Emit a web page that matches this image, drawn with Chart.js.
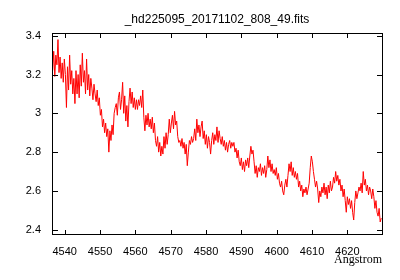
<!DOCTYPE html>
<html>
<head>
<meta charset="utf-8">
<script src="https://cdn.jsdelivr.net/npm/chart.js@4.4.1/dist/chart.umd.min.js"></script>
<style>
  html, body { margin: 0; padding: 0; background: #fff; }
  #wrap { width: 400px; height: 280px; }
</style>
</head>
<body>
<div id="wrap"><canvas id="spec" width="400" height="280"></canvas></div>
<script>
// Spectrum sampling (as in the FITS header: start + step per pixel)
const waveStart = 4536.6;
const waveStep = 0.3;

// Flux, one value per sample
const flux = [
    3.22, 3.32, 3.19, 3.30, 3.25, 3.38, 3.21, 3.29, 3.18, 3.26,
    3.16, 3.28, 3.20, 3.03, 3.24, 3.12, 3.30, 3.15, 3.22, 3.10,
    3.18, 3.05, 3.22, 3.10, 3.20, 3.08, 3.25, 3.14, 3.31, 3.16,
    3.22, 3.10, 3.28, 3.12, 3.20, 3.09, 3.18, 3.13, 3.07, 3.15,
    3.10, 3.06, 3.12, 3.04, 3.08, 2.99, 3.02, 2.93, 2.97, 2.90,
    2.95, 2.88, 2.92, 2.80, 2.91, 2.86, 2.94, 2.89, 3.00, 3.03,
    3.05, 2.99, 3.08, 3.11, 3.02, 3.07, 3.16, 3.00, 3.09, 2.96,
    3.04, 2.93, 3.06, 3.13, 3.05, 3.11, 3.03, 3.08, 3.02, 3.07,
    3.02, 3.07, 3.04, 3.09, 3.03, 3.12, 2.98, 2.91, 2.99, 2.94,
    3.00, 2.93, 2.97, 2.92, 2.98, 2.90, 2.95, 2.86, 2.83, 2.88,
    2.80, 2.85, 2.78, 2.83, 2.79, 2.88, 2.82, 2.90, 2.84, 2.89,
    2.97, 2.90, 2.95, 2.99, 2.92, 3.01, 2.94, 2.96, 2.88, 2.85,
    2.86, 2.83, 2.87, 2.82, 2.85, 2.79, 2.84, 2.73, 2.80, 2.86,
    2.84, 2.88, 2.85, 2.87, 2.92, 2.86, 2.97, 2.90, 2.94, 2.88,
    2.93, 2.96, 2.87, 2.91, 2.84, 2.89, 2.82, 2.88, 2.85, 2.79,
    2.86, 2.90, 2.84, 2.89, 2.86, 2.93, 2.85, 2.91, 2.87, 2.84,
    2.88, 2.83, 2.86, 2.81, 2.85, 2.80, 2.84, 2.86, 2.82, 2.85,
    2.83, 2.85, 2.80, 2.82, 2.77, 2.81, 2.75, 2.73, 2.77, 2.71,
    2.75, 2.70, 2.76, 2.73, 2.77, 2.72, 2.78, 2.83, 2.79, 2.81,
    2.75, 2.69, 2.73, 2.67, 2.72, 2.70, 2.74, 2.68, 2.72, 2.69,
    2.73, 2.67, 2.71, 2.78, 2.72, 2.76, 2.70, 2.74, 2.69, 2.71,
    2.68, 2.72, 2.66, 2.69, 2.64, 2.62, 2.65, 2.60, 2.58, 2.63,
    2.66, 2.62, 2.68, 2.74, 2.70, 2.75, 2.68, 2.72, 2.67, 2.70,
    2.66, 2.69, 2.62, 2.65, 2.60, 2.63, 2.57, 2.61, 2.59, 2.62,
    2.58, 2.61, 2.64, 2.72, 2.78, 2.75, 2.70, 2.66, 2.62, 2.65,
    2.61, 2.54, 2.60, 2.57, 2.62, 2.59, 2.64, 2.58, 2.62, 2.56,
    2.63, 2.59, 2.65, 2.60, 2.62, 2.67, 2.64, 2.70, 2.65, 2.68,
    2.63, 2.66, 2.60, 2.63, 2.57, 2.61, 2.55, 2.49, 2.57, 2.53,
    2.56, 2.51, 2.55, 2.49, 2.45, 2.54, 2.60, 2.56, 2.59, 2.62,
    2.60, 2.64, 2.59, 2.70, 2.63, 2.66, 2.60, 2.63, 2.58, 2.62,
    2.60, 2.56, 2.61, 2.57, 2.51, 2.55, 2.49, 2.47, 2.51, 2.44,
    2.46
];

const xTicks = [4540, 4550, 4560, 4570, 4580, 4590, 4600, 4610, 4620];
const yTicks = [2.4, 2.6, 2.8, 3.0, 3.2, 3.4];

const plotTitle = '_hd225095_20171102_808_49.fits';
const xTitle = 'Angstrom';

const points = flux.map((f, i) => ({ x: waveStart + i * waveStep, y: f }));

// gnuplot-like frame with inward ticks on all four sides
const framePlugin = {
    id: 'frame',
    afterDraw(chart) {
        const ctx = chart.ctx;
        const { left, right, top, bottom } = chart.chartArea;
        const xs = chart.scales.x;
        const ys = chart.scales.y;
        ctx.save();
        ctx.strokeStyle = '#000';
        ctx.lineWidth = 1;
        ctx.strokeRect(left + 0.5, top + 0.5, right - left, bottom - top);
        ctx.beginPath();
        xTicks.forEach(v => {
            const px = Math.round(xs.getPixelForValue(v)) + 0.5;
            ctx.moveTo(px, bottom);
            ctx.lineTo(px, bottom - 4);
            ctx.moveTo(px, top + 1);
            ctx.lineTo(px, top + 5);
        });
        yTicks.forEach(v => {
            const py = Math.round(ys.getPixelForValue(v)) + 0.5;
            ctx.moveTo(left + 1, py);
            ctx.lineTo(left + 6, py);
            ctx.moveTo(right, py);
            ctx.lineTo(right - 5, py);
        });
        ctx.stroke();
        ctx.restore();
    }
};

new Chart(document.getElementById('spec'), {
    type: 'line',
    data: {
        datasets: [{
            data: points,
            borderColor: '#ff0000',
            borderWidth: 1,
            pointRadius: 0,
            tension: 0,
            fill: false
        }]
    },
    options: {
        responsive: false,
        animation: false,
        events: [],
        layout: { padding: { left: 0, right: 18, top: 0, bottom: 0 } },
        plugins: {
            legend: { display: false },
            tooltip: { enabled: false },
            title: {
                display: true,
                text: plotTitle,
                fullSize: false,
                color: '#000',
                font: { family: 'Liberation Sans', size: 12, weight: 'normal' },
                padding: { top: 12, bottom: 6.6 }
            }
        },
        scales: {
            x: {
                type: 'linear',
                min: 4536.41,
                max: 4629.81,
                grid: { display: false, drawTicks: false },
                border: { display: false },
                afterBuildTicks: scale => { scale.ticks = xTicks.map(v => ({ value: v })); },
                afterFit: scale => { scale.height = 46; },
                ticks: {
                    color: '#000',
                    padding: 11,
                    maxRotation: 0,
                    autoSkip: false,
                    font: { family: 'Liberation Sans', size: 11 },
                    callback: v => String(v)
                },
                title: {
                    display: true,
                    text: xTitle,
                    align: 'end',
                    color: '#000',
                    font: { family: 'Liberation Serif', size: 12 },
                    padding: { top: 0, bottom: 13 }
                }
            },
            y: {
                type: 'linear',
                min: 2.378,
                max: 3.414,
                grid: { display: false, drawTicks: false },
                border: { display: false },
                afterBuildTicks: scale => { scale.ticks = yTicks.map(v => ({ value: v })); },
                afterFit: scale => { scale.width = 52; },
                ticks: {
                    color: '#000',
                    padding: 11,
                    autoSkip: false,
                    font: { family: 'Liberation Sans', size: 11 },
                    callback: v => String(Number(v.toFixed(1)))
                }
            }
        }
    },
    plugins: [framePlugin]
});
</script>
</body>
</html>
